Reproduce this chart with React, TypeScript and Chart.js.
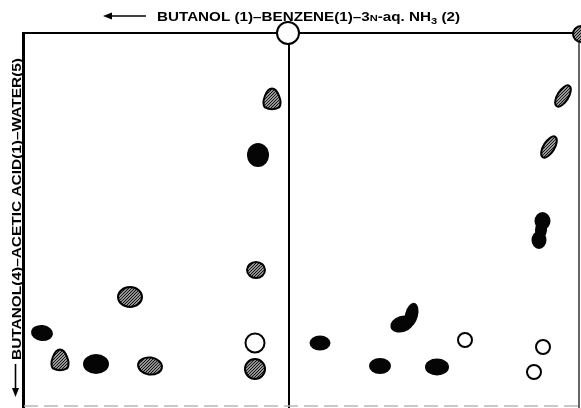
import React, { useEffect, useRef } from "react";
import { Chart, registerables } from "chart.js";

Chart.register(...registerables);

// Frame in plate units (distance from left frame edge, distance from top frame edge)
const PLATE_W = 555;
const PLATE_H = 372;
const DIVIDER_X = 265;

// Black (filled) spots
const blackX = [234, 18, 72, 296, 356, 413, 381, 517];
const blackY = [122, 300, 331, 310, 333, 334, 285, 197];
// Hatched spots
const hatchX = [248, 232, 106, 36, 126, 231, 539, 525, 557];
const hatchY = [66, 237, 264, 327, 333, 336, 63, 114, 1];
// Open spots
const openX = [264, 231, 441, 519, 510];
const openY = [0, 310, 307, 314, 339];

const TITLE_TOP = ["BUTANOL (1)–BENZENE(1)–3", "N", "-aq. NH", "3", " (2)"];
const TITLE_LEFT = "BUTANOL(4)–ACETIC ACID(1)–WATER(5)";

type Shape =
  | { kind: "ellipse"; rx: number; ry: number; rot?: number }
  | { kind: "egg"; rx: number; ry: number }
  | { kind: "crescent" }
  | { kind: "dumbbell" };

const blackShapes: Shape[] = [
  { kind: "ellipse", rx: 11, ry: 12 },
  { kind: "ellipse", rx: 11, ry: 8, rot: 0.1 },
  { kind: "ellipse", rx: 13, ry: 10 },
  { kind: "ellipse", rx: 10.5, ry: 7.5 },
  { kind: "ellipse", rx: 11, ry: 8 },
  { kind: "ellipse", rx: 12, ry: 8.5 },
  { kind: "crescent" },
  { kind: "dumbbell" },
];
const hatchShapes: Shape[] = [
  { kind: "egg", rx: 9.5, ry: 10.5 },
  { kind: "ellipse", rx: 9, ry: 8 },
  { kind: "ellipse", rx: 12, ry: 10 },
  { kind: "egg", rx: 9.5, ry: 10.5 },
  { kind: "ellipse", rx: 12, ry: 8.5, rot: 0.15 },
  { kind: "ellipse", rx: 10, ry: 10 },
  { kind: "ellipse", rx: 5.5, ry: 12, rot: 0.55 },
  { kind: "ellipse", rx: 5.5, ry: 12, rot: 0.55 },
  { kind: "ellipse", rx: 8, ry: 8 },
];
const openShapes: Shape[] = [
  { kind: "ellipse", rx: 11, ry: 11 },
  { kind: "ellipse", rx: 9.5, ry: 9.5 },
  { kind: "ellipse", rx: 7, ry: 7 },
  { kind: "ellipse", rx: 7, ry: 7 },
  { kind: "ellipse", rx: 7, ry: 7 },
];

function shapePath(ctx: CanvasRenderingContext2D, s: Shape) {
  ctx.beginPath();
  if (s.kind === "ellipse") {
    ctx.ellipse(0, 0, s.rx, s.ry, s.rot || 0, 0, Math.PI * 2);
  } else if (s.kind === "egg") {
    const { rx, ry } = s;
    ctx.moveTo(0, -ry);
    ctx.bezierCurveTo(rx * 0.6, -ry, rx * 1.15, ry * 0.3, rx * 0.75, ry * 0.8);
    ctx.quadraticCurveTo(0, ry * 1.15, -rx * 0.75, ry * 0.8);
    ctx.bezierCurveTo(-rx * 1.15, ry * 0.3, -rx * 0.6, -ry, 0, -ry);
    ctx.closePath();
  } else if (s.kind === "crescent") {
    ctx.ellipse(-3, 6, 12, 8, -0.3, 0, Math.PI * 2);
    ctx.moveTo(13, -3);
    ctx.ellipse(6.5, -3, 6.5, 12.5, 0.25, 0, Math.PI * 2);
  } else {
    ctx.ellipse(1.5, -9, 8, 9, 0, 0, Math.PI * 2);
    ctx.moveTo(5, 10);
    ctx.ellipse(-2, 10, 7.5, 9, 0, 0, Math.PI * 2);
    ctx.moveTo(6, 0);
    ctx.ellipse(0, 0, 6, 10, 0.1, 0, Math.PI * 2);
  }
}

function makeSpot(s: Shape, mode: "black" | "hatch" | "open"): HTMLCanvasElement {
  const S = 50;
  const c = document.createElement("canvas");
  c.width = S;
  c.height = S;
  const ctx = c.getContext("2d")!;
  ctx.translate(S / 2, S / 2);
  if (mode === "black") {
    shapePath(ctx, s);
    ctx.fillStyle = "#050505";
    ctx.fill("nonzero");
  } else if (mode === "open") {
    shapePath(ctx, s);
    ctx.fillStyle = "#ffffff";
    ctx.fill();
    ctx.lineWidth = 2;
    ctx.strokeStyle = "#000";
    ctx.stroke();
  } else {
    ctx.save();
    shapePath(ctx, s);
    ctx.fillStyle = "#cfcfcf";
    ctx.fill();
    ctx.clip();
    ctx.beginPath();
    for (let t = -40; t <= 40; t += 3) {
      ctx.moveTo(t - 20, 20);
      ctx.lineTo(t + 20, -20);
    }
    ctx.lineWidth = 1.2;
    ctx.strokeStyle = "#111";
    ctx.stroke();
    ctx.restore();
    shapePath(ctx, s);
    ctx.lineWidth = 2;
    ctx.strokeStyle = "#000";
    ctx.stroke();
  }
  return c;
}

const framePlugin = {
  id: "frame",
  beforeDatasetsDraw(chart: any) {
    const { ctx, chartArea } = chart;
    const xs = chart.scales.x;
    const H = chart.height;
    ctx.save();
    ctx.strokeStyle = "#000";
    // top line
    ctx.lineWidth = 2;
    ctx.beginPath();
    ctx.moveTo(chartArea.left, chartArea.top);
    ctx.lineTo(chart.width, chartArea.top);
    ctx.stroke();
    // left line
    ctx.lineWidth = 3;
    ctx.beginPath();
    ctx.moveTo(chartArea.left - 0.5, chartArea.top - 1);
    ctx.lineTo(chartArea.left - 0.5, H);
    ctx.stroke();
    // divider
    const dx = xs.getPixelForValue(DIVIDER_X);
    ctx.lineWidth = 2;
    ctx.beginPath();
    ctx.moveTo(dx, chartArea.top);
    ctx.lineTo(dx, H);
    ctx.stroke();
    // right line
    ctx.lineWidth = 1.5;
    ctx.strokeStyle = "#333";
    ctx.beginPath();
    ctx.moveTo(chartArea.right, chartArea.top);
    ctx.lineTo(chartArea.right, H);
    ctx.stroke();
    // faint bottom edge
    ctx.strokeStyle = "#b8b8b8";
    ctx.lineWidth = 1.5;
    ctx.setLineDash([14, 6]);
    ctx.beginPath();
    ctx.moveTo(chartArea.left, chartArea.bottom + 1);
    ctx.lineTo(chart.width, chartArea.bottom + 1);
    ctx.stroke();
    ctx.restore();
  },
  afterDraw(chart: any) {
    const { ctx } = chart;
    ctx.save();
    ctx.fillStyle = "#000";
    ctx.strokeStyle = "#000";
    const fam = "'Liberation Sans', Arial, sans-serif";
    // top title
    const segs = [
      { t: TITLE_TOP[0], size: 13, dy: 0 },
      { t: TITLE_TOP[1], size: 9.5, dy: 0 },
      { t: TITLE_TOP[2], size: 13, dy: 0 },
      { t: TITLE_TOP[3], size: 9.5, dy: 3 },
      { t: TITLE_TOP[4], size: 13, dy: 0 },
    ];
    let total = 0;
    for (const s of segs) {
      ctx.font = `bold ${s.size}px ${fam}`;
      total += ctx.measureText(s.t).width;
    }
    const x0 = 157;
    const targetW = 303;
    ctx.save();
    ctx.translate(x0, 21);
    ctx.scale(targetW / total, 1);
    ctx.textBaseline = "alphabetic";
    let cx = 0;
    for (const s of segs) {
      ctx.font = `bold ${s.size}px ${fam}`;
      ctx.fillText(s.t, cx, s.dy);
      cx += ctx.measureText(s.t).width;
    }
    ctx.restore();
    // top arrow (pointing left)
    ctx.lineWidth = 1.6;
    ctx.beginPath();
    ctx.moveTo(108, 16);
    ctx.lineTo(146, 16);
    ctx.stroke();
    ctx.beginPath();
    ctx.moveTo(103, 16);
    ctx.lineTo(112, 12.5);
    ctx.lineTo(112, 19.5);
    ctx.closePath();
    ctx.fill();

    // left vertical title
    ctx.font = `bold 13px ${fam}`;
    const w = ctx.measureText(TITLE_LEFT).width;
    ctx.save();
    ctx.translate(21, 360);
    ctx.rotate(-Math.PI / 2);
    ctx.scale(302 / w, 1);
    ctx.fillText(TITLE_LEFT, 0, 0);
    ctx.restore();
    // left arrow (pointing down)
    ctx.lineWidth = 1.6;
    ctx.beginPath();
    ctx.moveTo(15.5, 364);
    ctx.lineTo(15.5, 390);
    ctx.stroke();
    ctx.beginPath();
    ctx.moveTo(15.5, 397);
    ctx.lineTo(12, 388);
    ctx.lineTo(19, 388);
    ctx.closePath();
    ctx.fill();
    ctx.restore();
  },
};

export default function App() {
  const ref = useRef<HTMLCanvasElement | null>(null);
  useEffect(() => {
    if (!ref.current) return;
    const mk = (xs: number[], ys: number[]) => xs.map((x, i) => ({ x, y: ys[i] }));
    const chart = new Chart(ref.current, {
      type: "scatter",
      data: {
        datasets: [
          {
            label: "hatched",
            data: mk(hatchX, hatchY),
            pointStyle: hatchShapes.map((s) => makeSpot(s, "hatch")) as any,
            pointRadius: 12,
            clip: false as any,
          },
          {
            label: "black",
            data: mk(blackX, blackY),
            pointStyle: blackShapes.map((s) => makeSpot(s, "black")) as any,
            pointRadius: 12,
            clip: false as any,
          },
          {
            label: "open",
            data: mk(openX, openY),
            pointStyle: openShapes.map((s) => makeSpot(s, "open")) as any,
            pointRadius: 12,
            clip: false as any,
          },
        ],
      },
      options: {
        animation: false,
        responsive: false,
        maintainAspectRatio: false,
        devicePixelRatio: 1,
        events: [],
        layout: { autoPadding: false, padding: { left: 24, top: 33, right: 2, bottom: 3 } },
        scales: {
          x: { type: "linear", min: 0, max: PLATE_W, display: false },
          y: { type: "linear", min: 0, max: PLATE_H, reverse: true, display: false },
        },
        plugins: { legend: { display: false }, tooltip: { enabled: false }, title: { display: false } },
      },
      plugins: [framePlugin],
    });
    return () => chart.destroy();
  }, []);
  return (
    <div style={{ position: "fixed", left: 0, top: 0, width: 581, height: 408, background: "#fff" }}>
      <canvas ref={ref} width={581} height={408} style={{ display: "block" }} />
    </div>
  );
}
